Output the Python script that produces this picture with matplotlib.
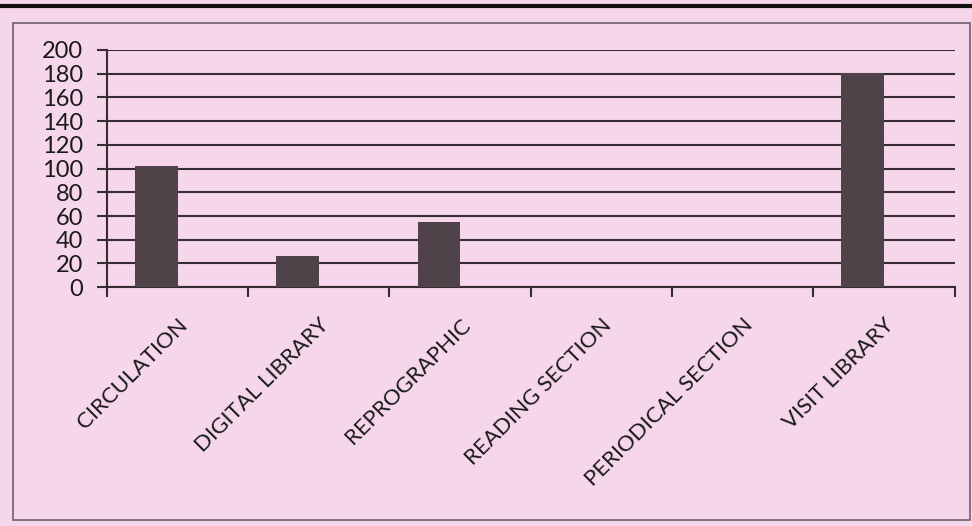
import matplotlib.pyplot as plt
import matplotlib.patches as mpatches
from matplotlib.lines import Line2D

categories = ["CIRCULATION", "DIGITAL LIBRARY", "REPROGRAPHIC",
              "READING SECTION", "PERIODICAL SECTION", "VISIT LIBRARY"]
values = [102, 26, 55, 0, 0, 181]
yticks = [0, 20, 40, 60, 80, 100, 120, 140, 160, 180, 200]

bg = "#f6d6ea"
bar_color = "#4f4249"
line_color = "#352d32"

plt.rcParams["font.family"] = ["Lato", "DejaVu Sans"]

fig = plt.figure(figsize=(9.72, 5.26), dpi=100, facecolor=bg)

# page rule and chart frame from the scanned page
fig.add_artist(Line2D([0, 1], [0.988, 0.988], color="#111111", lw=3))
fig.add_artist(mpatches.Rectangle((0.013, 0.012), 0.985, 0.945, fill=False,
                                  edgecolor="#6e6268", lw=1.2,
                                  transform=fig.transFigure))

ax = fig.add_axes([0.110, 0.454, 0.872, 0.451])
ax.set_facecolor(bg)

centers = [i + 0.5 for i in range(len(categories))]
# bars sit to the left of the category centre (clustered layout, 2nd series empty)
ax.bar([c - 0.15 for c in centers], values, width=0.3, color=bar_color,
       zorder=3)

ax.set_xlim(0, len(categories))
ax.set_ylim(0, 200)
ax.set_yticks(yticks)
ax.yaxis.grid(True, color=line_color, lw=1.5, zorder=0)

for s in ["top", "right"]:
    ax.spines[s].set_visible(False)
ax.spines["left"].set_color(line_color)
ax.spines["bottom"].set_color(line_color)
ax.spines["left"].set_linewidth(1.5)
ax.spines["bottom"].set_linewidth(1.5)

ax.set_xticks(range(len(categories) + 1))
ax.set_xticklabels([])
ax.set_xticks(centers, minor=True)
ax.set_xticklabels(categories, minor=True, rotation=45, ha="right",
                   rotation_mode="anchor", fontsize=16, color="#1a1a1a")
ax.tick_params(axis="x", which="minor", length=0, pad=20)
ax.tick_params(axis="x", which="major", length=7, width=1.5, color=line_color)
ax.tick_params(axis="y", length=7, width=1.5, color=line_color, pad=10,
               labelsize=17, labelcolor="#1a1a1a")

fig.savefig("out.png", dpi=100, facecolor=bg)
